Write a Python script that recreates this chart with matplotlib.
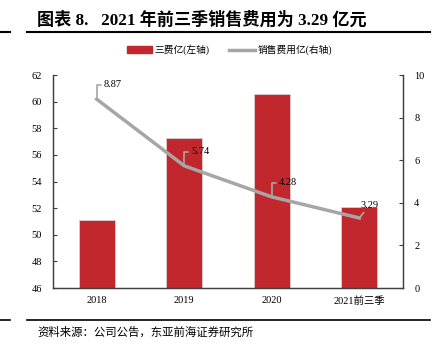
import matplotlib.pyplot as plt
from matplotlib.lines import Line2D
from matplotlib.patches import Patch

plt.rcParams['font.family'] = ['Liberation Serif', 'Noto Sans CJK SC']

categories = ["2018", "2019", "2020", "2021前三季"]
three_fees = [51.1, 57.3, 60.6, 52.1]        # 三费 (left axis)
sales_expense = [8.87, 5.74, 4.28, 3.29]      # 销售费用 (right axis)
sales_labels = ["8.87", "5.74", "4.28", "3.29"]

bar_color = "#C1272D"
line_color = "#A6A6A6"

fig = plt.figure(figsize=(4.41, 3.56), dpi=100)
ax = fig.add_axes([0.120, 0.191, 0.794, 0.598])
ax2 = ax.twinx()

x = range(len(categories))
ax.bar(x, [v - 46 for v in three_fees], bottom=46, width=0.41, color=bar_color,
       edgecolor="#D9D9D9", linewidth=0.5, zorder=2)
ax.set_ylim(46, 62)
ax.set_yticks(range(46, 63, 2))
ax.set_xlim(-0.5, 3.5)
ax.set_xticks(list(x))
ax.set_xticklabels(categories)

ax2.plot(list(x), sales_expense, color=line_color, linewidth=2.5, zorder=3)
ax2.set_ylim(0, 10)
ax2.set_yticks(range(0, 11, 2))

# callout labels: bracket leaders for the first three, straight diagonal for the last
for i, (v, lab) in enumerate(zip(sales_expense, sales_labels)):
    if i < 3:
        ax2.annotate(lab, xy=(i, v), xytext=(5, 7), textcoords="offset points",
                     fontsize=7.5, va="bottom", ha="left",
                     arrowprops=dict(arrowstyle="-", color=line_color, lw=1.2,
                                     shrinkA=0, shrinkB=0,
                                     connectionstyle="angle,angleA=0,angleB=90,rad=0"))
    else:
        ax2.annotate(lab, xy=(i, v), xytext=(7.5, 6), textcoords="offset points",
                     fontsize=7.5, va="bottom", ha="center",
                     arrowprops=dict(arrowstyle="-", color=line_color, lw=1.2,
                                     shrinkA=0, shrinkB=0))

for a in (ax, ax2):
    a.spines["top"].set_visible(False)
    for s in a.spines.values():
        s.set_color("#404040")
        s.set_linewidth(0.9)
    a.tick_params(axis="y", direction="in", length=3, labelsize=7.5, colors="#404040",
                  labelcolor="black")
    a.tick_params(axis="x", length=0, labelsize=7.5, pad=6)
ax.tick_params(axis="y", pad=8)
ax2.tick_params(axis="y", pad=8)

handles = [Patch(color=bar_color, label="三费亿(左轴)"),
           Line2D([0], [0], color=line_color, lw=2.5, label="销售费用亿(右轴)")]
fig.legend(handles=handles, loc="center", bbox_to_anchor=(0.52, 0.86), ncol=2,
           frameon=False, fontsize=7, handlelength=2.6, handleheight=0.6,
           columnspacing=2.0, handletextpad=0.3)

fig.text(0.084, 0.945, "图表 8.   2021 年前三季销售费用为 3.29 亿元",
         fontsize=12.3, fontweight="bold", va="center", ha="left")
fig.add_artist(Line2D([0.061, 0.975], [0.91, 0.91], color="black", lw=1.5))
fig.add_artist(Line2D([0.0, 0.023], [0.91, 0.91], color="black", lw=1.5))

fig.add_artist(Line2D([0.061, 0.975], [0.101, 0.101], color="black", lw=1.2))
fig.add_artist(Line2D([0.0, 0.023], [0.101, 0.101], color="black", lw=1.2))
fig.text(0.084, 0.068, "资料来源：公司公告，东亚前海证券研究所", fontsize=8.2,
         va="center", ha="left")

fig.savefig("out.png", dpi=100)
